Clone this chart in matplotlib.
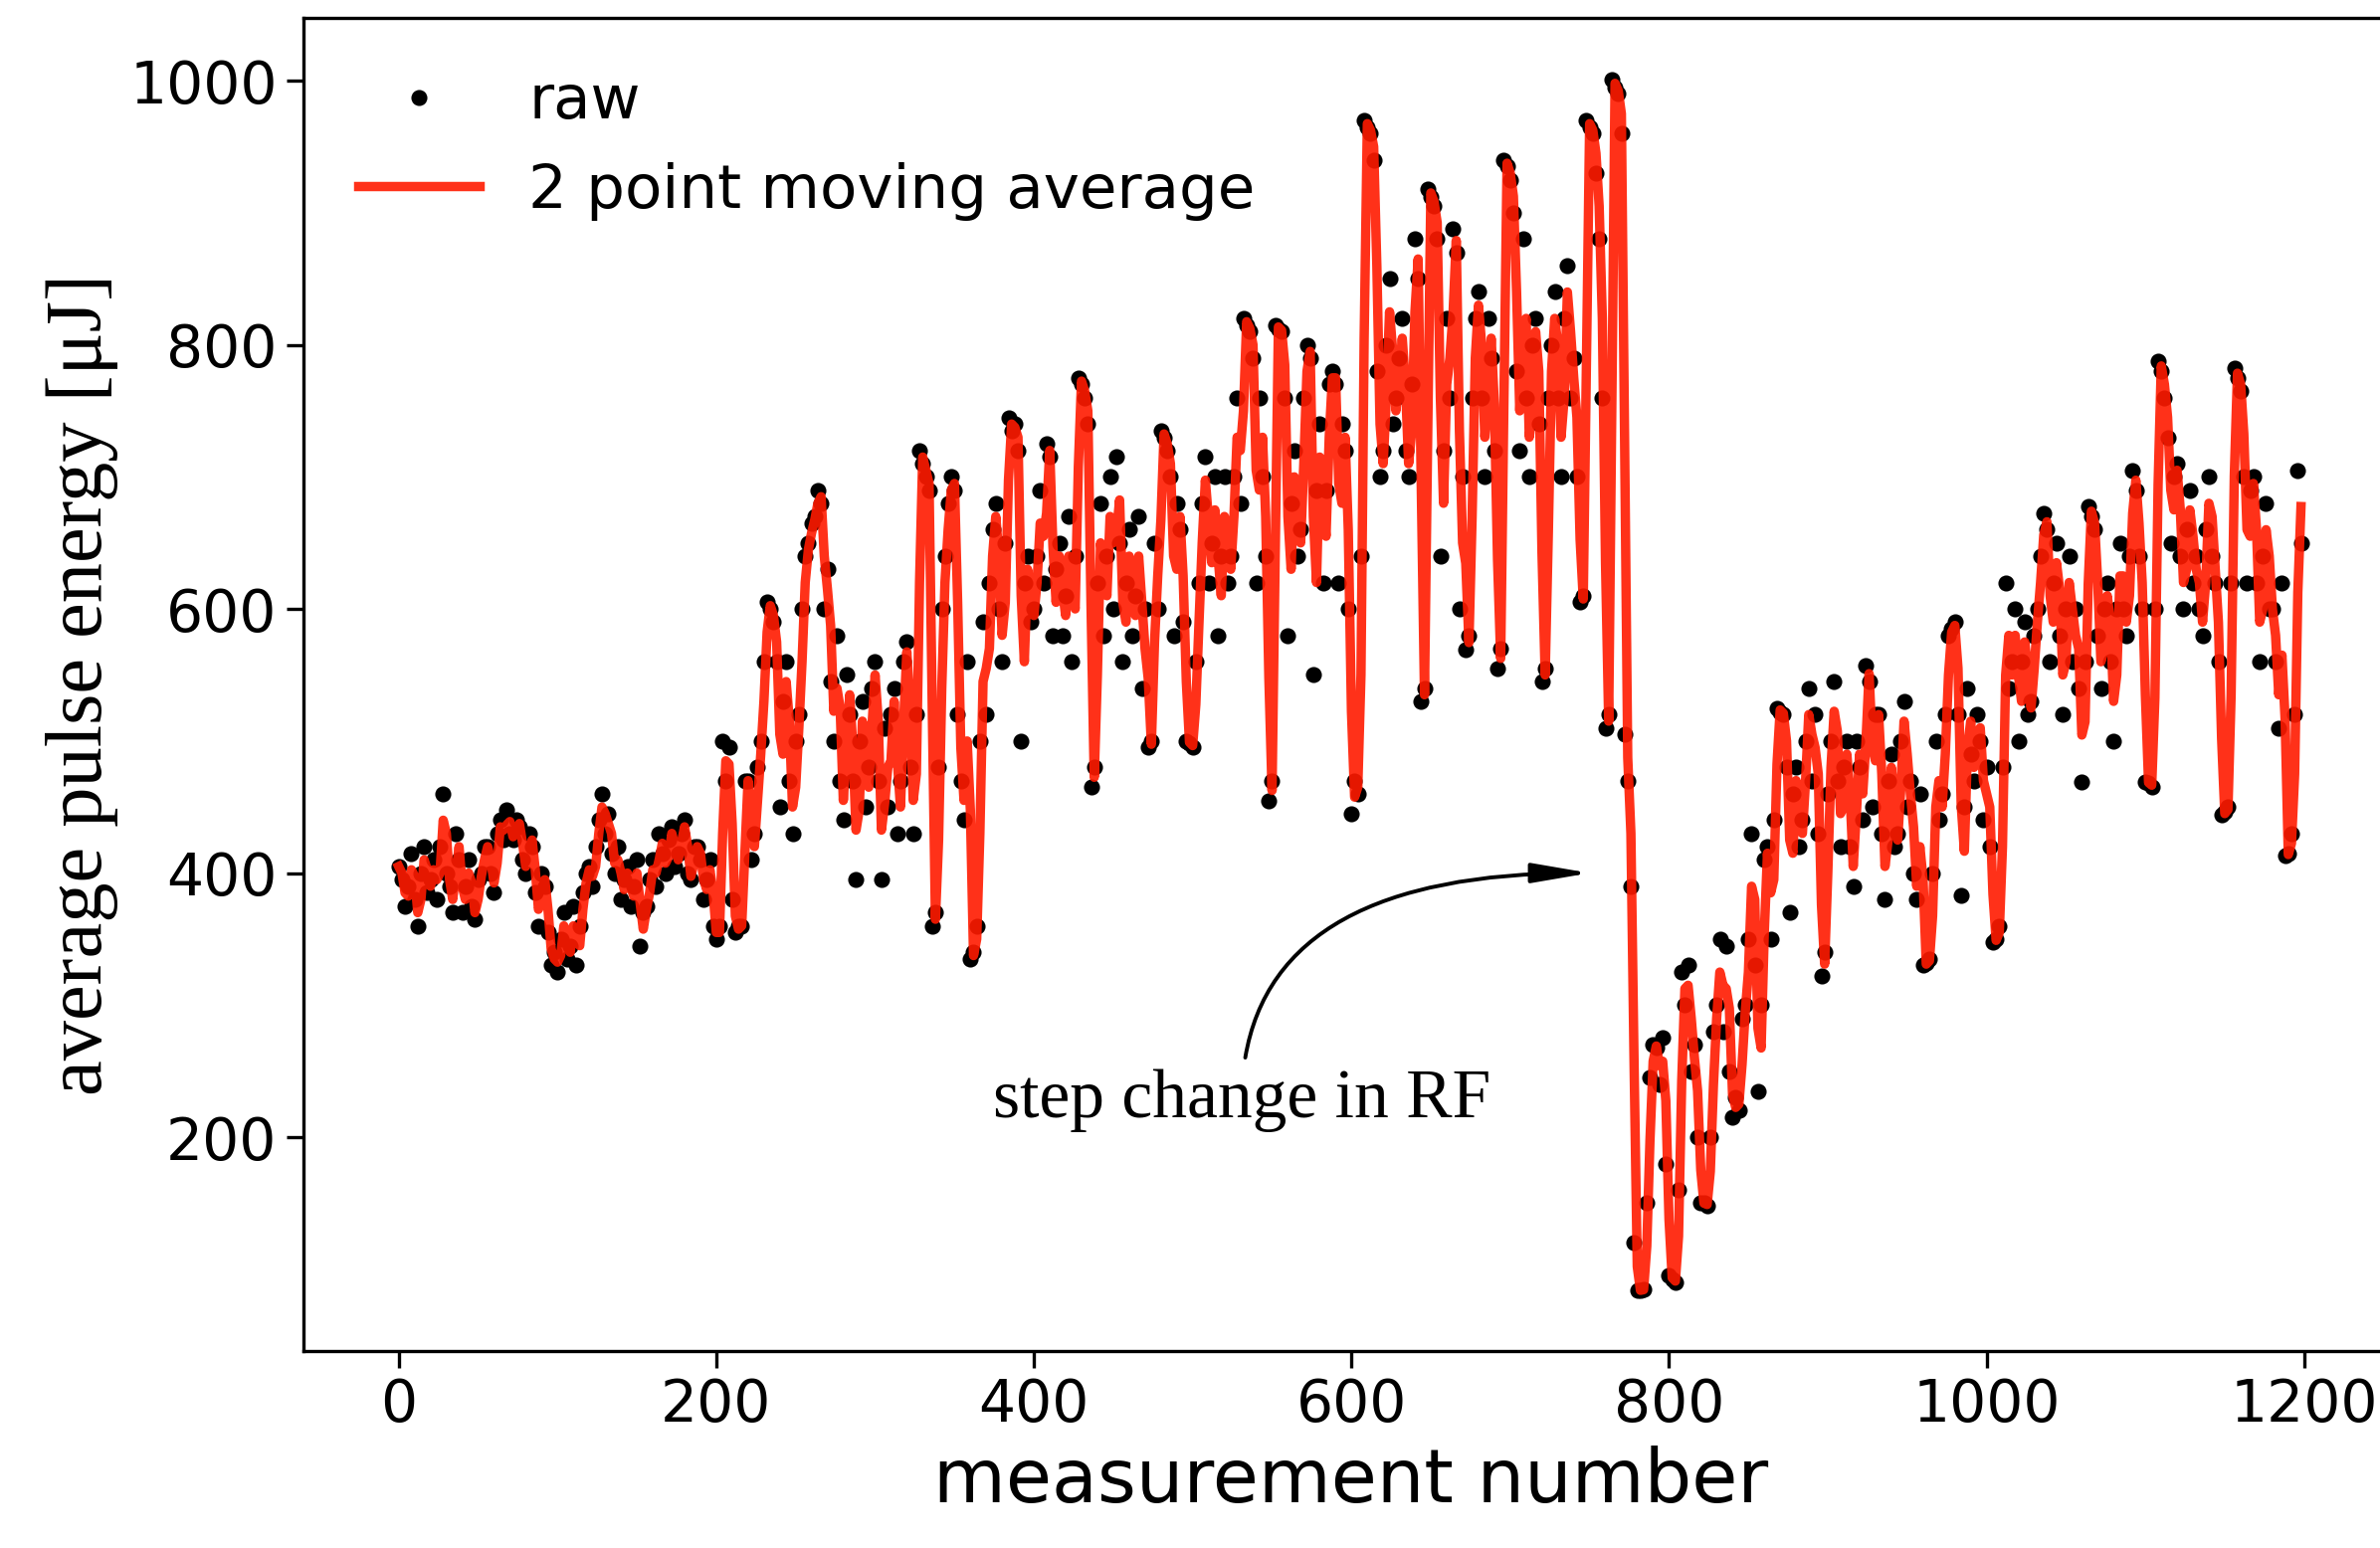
import numpy as np
import pandas as pd
import matplotlib
matplotlib.use('Agg')
import matplotlib.pyplot as plt

# pulse energy [uJ] read off the plot, two readings for every 4 measurements
# first reading (measurement 0, 4, 8, ...)
seg_a = [405, 375, 415, 360, 420, 395, 380, 460, 390, 430,
         370, 410, 365, 400, 420, 385, 440, 448, 425, 435,
         400, 420, 360, 390, 330, 325, 370, 345, 330, 385,
         405, 420, 460, 445, 400, 380, 405, 390, 345, 375,
         410, 430, 400, 435, 415, 440, 395, 420, 380, 410]
seg_b = [350, 500, 495, 355, 360, 470, 430, 500, 605, 590,
         450, 560, 430, 520, 640, 665, 690, 600, 545, 580,
         440, 520, 395, 530, 480, 560, 395, 450, 540, 470,
         575, 430, 720, 700, 360, 480, 640, 700, 520, 440,
         335, 360, 590, 620, 680, 560, 745, 740, 500, 640]
seg_c = [600, 690, 725, 580, 650, 610, 560, 775, 760, 465,
         620, 580, 700, 715, 560, 660, 610, 540, 495, 650,
         735, 720, 580, 660, 500, 495, 620, 715, 650, 580,
         700, 640, 760, 820, 810, 620, 700, 455, 815, 810,
         580, 720, 660, 800, 550, 740, 690, 780, 620, 720]
seg_d = [445, 460, 970, 960, 780, 720, 850, 760, 820, 700,
         880, 530, 918, 905, 640, 820, 888, 600, 569, 760,
         840, 700, 790, 555, 940, 925, 780, 880, 700, 820,
         545, 760, 840, 700, 860, 790, 605, 970, 960, 880,
         510, 1001, 990, 505, 390]
seg_e = [84, 85, 245, 268, 275, 95, 90, 325, 330, 270,
         150, 148, 280, 350, 345, 215, 220, 300, 430, 235,
         410, 350, 525, 520, 370, 480, 440, 540, 520, 322,
         460, 545, 420, 500, 390, 480, 557, 450, 520, 380,
         490, 430, 530, 470, 380, 330, 335, 500, 460, 580,
         590, 383, 540, 470, 500]
seg_f = [480, 348, 360, 620, 560, 500, 590, 530, 600, 672,
         560, 650, 520, 640, 600, 469, 678, 660, 540, 620,
         500, 650, 580, 705, 640, 469, 465, 788, 760, 650,
         710, 600, 690, 640, 580, 700, 620, 444, 450, 782,
         765, 620, 700, 560, 680, 600, 510, 413, 430, 705]

# second reading (measurement 2, 6, 10, ...)
seg_a2 = [395, 390, 380, 400, 385, 410, 420, 400, 370, 410,
          390, 375, 395, 420, 400, 430, 425, 430, 440, 410,
          430, 385, 400, 355, 340, 350, 335, 375, 360, 400,
          390, 440, 430, 415, 420, 395, 375, 410, 370, 395,
          390, 415, 425, 405, 430, 400, 420, 410, 395, 360]
seg_b2 = [360, 470, 380, 360, 470, 410, 480, 560, 600, 560,
          530, 470, 500, 600, 650, 670, 680, 630, 500, 470,
          550, 470, 500, 450, 540, 470, 510, 520, 430, 560,
          480, 520, 710, 690, 370, 600, 680, 690, 470, 560,
          340, 500, 520, 660, 600, 650, 735, 720, 620, 590]
seg_c2 = [640, 620, 715, 630, 580, 670, 640, 770, 740, 480,
          680, 640, 600, 650, 620, 580, 670, 600, 500, 600,
          730, 700, 680, 590, 498, 560, 680, 620, 700, 640,
          620, 700, 680, 815, 790, 760, 640, 470, 812, 760,
          680, 640, 760, 790, 690, 620, 770, 770, 740, 600]
seg_d2 = [470, 640, 965, 940, 700, 800, 740, 790, 720, 770,
          850, 540, 912, 880, 720, 760, 870, 700, 580, 820,
          760, 820, 720, 570, 935, 900, 720, 760, 800, 740,
          555, 800, 760, 820, 760, 700, 610, 965, 930, 760,
          520, 995, 960, 470, 120]
seg_e2 = [84, 150, 270, 240, 180, 92, 160, 300, 250, 200,
          150, 200, 300, 280, 250, 230, 290, 350, 330, 300,
          420, 440, 522, 480, 460, 420, 500, 470, 430, 340,
          500, 470, 480, 420, 500, 440, 545, 520, 430, 470,
          420, 500, 450, 400, 460, 332, 400, 440, 520, 585,
          520, 450, 490, 520, 440]
seg_f2 = [420, 350, 480, 540, 600, 560, 520, 580, 640, 660,
          620, 580, 600, 560, 540, 560, 670, 580, 600, 560,
          600, 600, 640, 690, 600, 468, 600, 780, 730, 700,
          640, 660, 620, 600, 660, 640, 560, 446, 620, 775,
          700, 690, 620, 640, 600, 560, 620, 415, 520, 650]

first = seg_a + seg_b + seg_c + seg_d + seg_e + seg_f
second = seg_a2 + seg_b2 + seg_c2 + seg_d2 + seg_e2 + seg_f2

energy = np.column_stack([first, second]).ravel()
measurement = np.arange(len(energy)) * 2

raw = pd.Series(energy, index=measurement)
avg = raw.rolling(2, min_periods=1).mean()

plt.rcParams['font.family'] = 'DejaVu Sans'

fig = plt.figure(figsize=(11.96, 7.78), dpi=200)
ax = fig.add_axes([0.1275, 0.1272, 0.880, 0.8612])

ax.plot(raw.index, raw.values, 'o', color='black', markersize=5.8,
        markeredgewidth=0, label='raw')
ax.plot(avg.index, avg.values, color='#ff1a00', alpha=0.9, lw=3.4,
        label='2 point moving average')

ax.annotate('step change in RF', xy=(750, 400), xytext=(531, 228),
            ha='center', va='center', fontsize=25, family='Liberation Serif',
            arrowprops=dict(arrowstyle='-|>,head_length=0.7,head_width=0.12',
                            connectionstyle='angle3,angleA=90,angleB=0',
                            color='black', lw=1.4, shrinkB=0))

ax.set_xlim(-60, 1259)
ax.set_ylim(38, 1047.5)
ax.set_xticks([0, 200, 400, 600, 800, 1000, 1200])
ax.set_yticks([200, 400, 600, 800, 1000])
ax.tick_params(labelsize=21, length=6, width=1.2)
ax.set_xlabel('measurement number', fontsize=27)
ax.set_ylabel('average pulse energy [μJ]', fontsize=29, family='Liberation Serif')
for s in ax.spines.values():
    s.set_linewidth(1.2)

ax.legend(loc='upper left', fontsize=22, frameon=False, handlelength=2.0)

fig.savefig('out.png', dpi=200)
